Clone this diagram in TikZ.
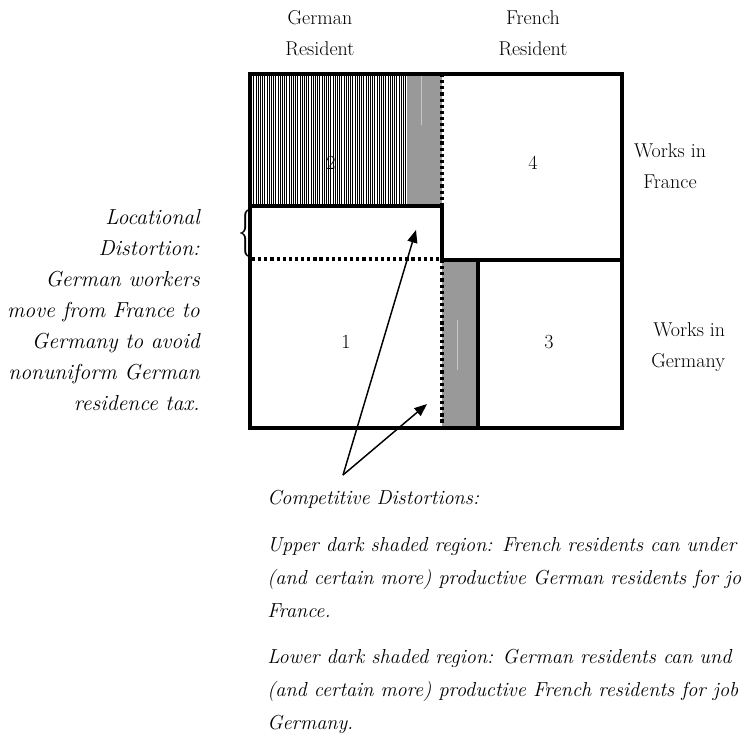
\documentclass[tikz,border=0pt]{standalone}
\usepackage{fontspec}
\usetikzlibrary{arrows.meta}
\tikzset{
  thickline/.style={line width=2.6pt, line cap=rect},
  dotline/.style={line width=2.4pt, dash pattern=on 2.4pt off 2.2pt},
  hatch/.style={line width=0.38pt},
  lbl/.style={inner sep=0pt, font=\fontsize{15}{23}\selectfont},
  itlbl/.style={inner sep=0pt, font=\fontsize{16.3}{23.3}\selectfont\itshape},
  para/.style={inner sep=0pt, align=left, anchor=north west, font=\fontsize{15.2}{24.75}\selectfont\itshape},
  arr/.style={line width=1.1pt, -{Triangle[length=9.5pt,width=7.5pt]}},
  faint/.style={line width=0.5pt, draw=black!22}
}
\begin{document}
\begin{tikzpicture}[x=0.75pt,y=-0.75pt]
\useasboundingbox (0,0) rectangle (741,735);
\clip (0,0) rectangle (741,735);
% hatched region 2
\foreach \x in {251.5,253.7,...,406.5} \draw[hatch] (\x,74) -- (\x,206);
% gray strips
\fill[black!40] (407,74) rectangle (442,206);
\fill[black!40] (442,260) rectangle (478,428);
\draw[faint] (421,76) -- (421,125);
\draw[faint] (457,320) -- (457,370);
% outer frame
\draw[thickline] (250,74) -- (622,74) -- (622,428) -- (250,428) -- cycle;
% separators
\draw[thickline] (250,206) -- (442,206) -- (442,260);
\draw[thickline] (442,260) -- (622,260);
\draw[thickline] (478,260) -- (478,428);
\draw[dotline] (442,74) -- (442,206);
\draw[dotline] (442,260) -- (442,428);
\draw[dotline] (252,259) -- (442,259);
% region numbers
\node[lbl] (n2) at (331,163) {\oldstylenums{2}};
\node[lbl] (n4) at (533,163) {4};
\node[lbl] (n1) at (346,342) {\oldstylenums{1}};
\node[lbl] (n3) at (549,342) {3};
% column heads
\node[lbl, align=center] (gr) at (320,33) {German\\Resident};
\node[lbl, align=center] (fr) at (533,33) {French\\Resident};
% row heads
\node[lbl, align=center] (wf) at (670,166) {Works in\\France};
\node[lbl, align=left, anchor=west] (wg) at (651,347) {\hspace{1.5pt}Works in\\Germany};
% locational distortion
\node[itlbl, align=right, anchor=east] (loc) at (200,310) {Locational\\Distortion:\\German workers\\move from France to\\Germany to avoid\\nonuniform German\\residence tax.};
\node[inner sep=0pt, font=\fontsize{36}{36}\selectfont] (brace) at (246,233) {\scalebox{0.6}[1]{\{}};
% arrows
\coordinate (apex) at (343,475);
\coordinate (tipU) at (416,230);
\coordinate (tipL) at (427,404);
\draw[arr] (apex) -- (tipU);
\draw[arr] (apex) -- (tipL);
% bottom text
\node[para] (comp) at (267,490) {Competitive Distortions:};
\node[para] (upper) at (267,537) {Upper dark shaded region: French residents can under\\(and certain more) productive German residents for jo\\France.};
\node[para] (lower) at (267,649) {Lower dark shaded region: German residents can und\\(and certain more) productive French residents for job\\Germany.};
\end{tikzpicture}
\end{document}
